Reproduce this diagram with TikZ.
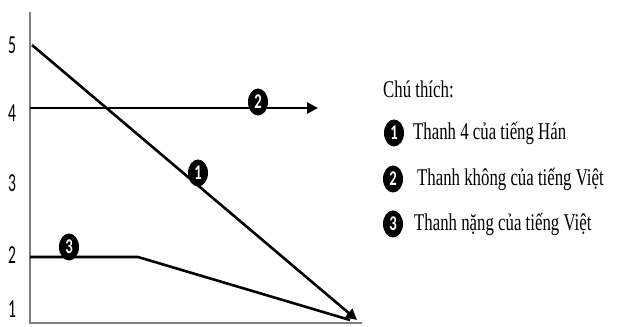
\documentclass[tikz,border=0pt]{standalone}
\usepackage{graphicx}
\usepackage{fontspec}
\setmainfont{Liberation Serif}
\newfontfamily\tickfont{Carlito}
\usetikzlibrary{positioning}
\usetikzlibrary {arrows.meta}
\usetikzlibrary{shapes.geometric}
\newcommand{\narrow}[2]{\scalebox{#1}[1]{#2}}
\tikzset{badge/.style={ellipse,draw=none,fill=black,text=white,
inner sep=0pt,minimum width=20pt, minimum height=27pt,font=\tickfont\bfseries\fontsize{21}{21}\selectfont}}
\tikzset{tonearrow/.style={line width=2.6pt,-{Triangle[length=11pt,width=11pt]}}}
\tikzset{toneline/.style={line width=2.6pt,line join=round}}
\tikzset{ticklabel/.style={inner sep=0pt,font=\tickfont\fontsize{26}{26}\selectfont}}
\tikzset{legendtext/.style={inner sep=0pt,anchor=west,font=\fontsize{24}{26}\selectfont}}

\begin{document}
\begin{tikzpicture}[x=1pt,y=1pt]
        \useasboundingbox (0,0) rectangle (622,327);

        \coordinate (origin) at (30,4);
        \coordinate (ytop) at (30,315);
        \coordinate (xend) at (362,4);
        \draw [gray,line width=1.2pt] (ytop) -- (origin) -- (xend);

        \node[ticklabel] (tickA) at (12,18) {\narrow{0.6}{1}};
        \node[ticklabel] (tickB) at (12,72) {\narrow{0.6}{2}};
        \node[ticklabel] (tickC) at (12,144) {\narrow{0.6}{3}};
        \node[ticklabel] (tickD) at (12,214) {\narrow{0.6}{4}};
        \node[ticklabel] (tickE) at (12,282) {\narrow{0.6}{5}};

        \coordinate (hanA) at (32,282);
        \coordinate (hanB) at (357,7);
        \draw [tonearrow] (hanA) -- (hanB);

        \coordinate (khongA) at (30,219);
        \coordinate (khongB) at (318,219);
        \draw [tonearrow] (khongA) -- (khongB);

        \coordinate (nangA) at (30,70);
        \coordinate (nangB) at (138,70);
        \coordinate (nangC) at (350,7);
        \draw [toneline] (nangA) -- (nangB) -- (nangC);

        \node[badge] (badgeHan) at (198,154) {\narrow{0.7}{1}};
        \node[badge] (badgeKhong) at (258,225) {\narrow{0.7}{2}};
        \node[badge] (badgeNang) at (69,80) {\narrow{0.7}{3}};

        \node[legendtext] (legendTitle) at (383,238) {\narrow{0.7}{Chú thích:}};
        \node[badge] (keyHan) at (394,194) {\narrow{0.7}{1}};
        \node[badge] (keyKhong) at (393,148) {\narrow{0.7}{2}};
        \node[badge] (keyNang) at (393,103) {\narrow{0.7}{3}};
        \node[legendtext] (textHan) [right=19pt of keyHan.center] {\narrow{0.7}{Thanh 4 của tiếng Hán}};
        \node[legendtext] (textKhong) [right=24pt of keyKhong.center] {\narrow{0.7}{Thanh không của tiếng Việt}};
        \node[legendtext] (textNang) [right=21pt of keyNang.center] {\narrow{0.7}{Thanh nặng của tiếng Việt}};

    \end{tikzpicture}
\end{document}
